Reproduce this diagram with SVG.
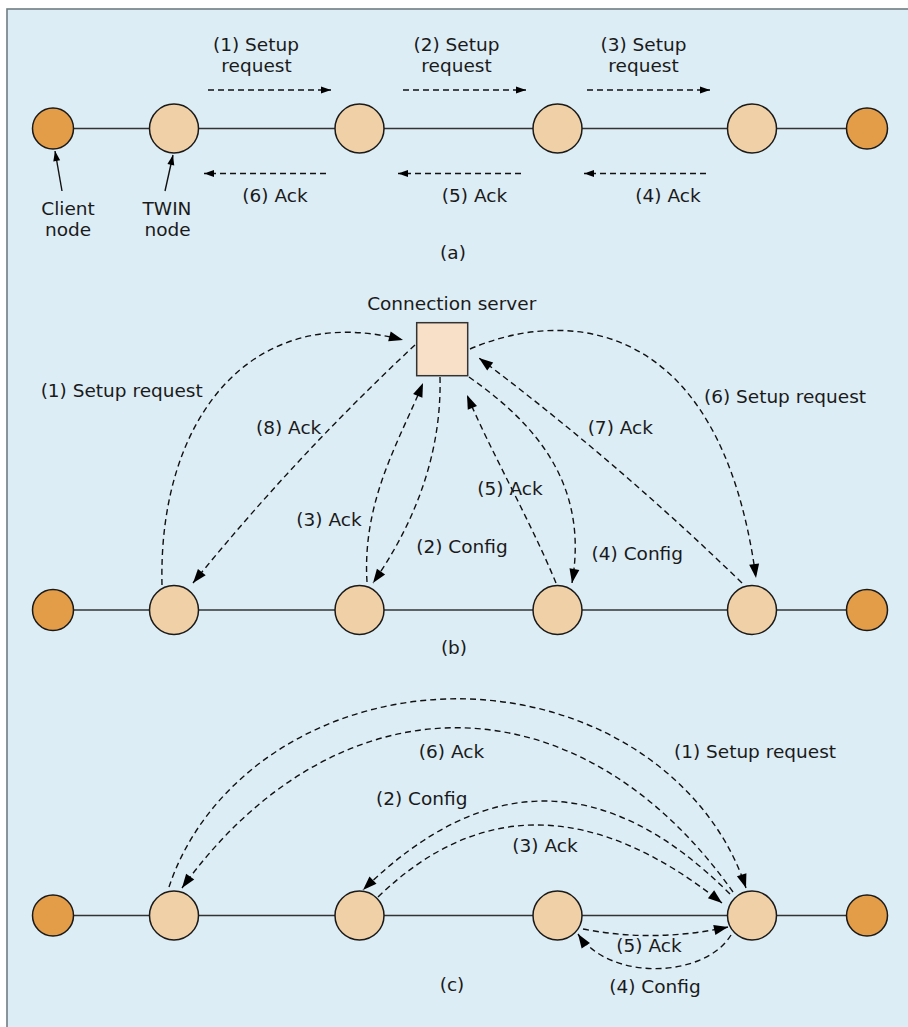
<svg xmlns="http://www.w3.org/2000/svg" width="908" height="1027" viewBox="0 0 908 1027">
  <style>
    .panel { fill: #dcedf5; stroke: #6f7d82; stroke-width: 1.6; }
    .link { stroke: #333; stroke-width: 1.5; fill: none; }
    .twin { fill: #f0d0a6; stroke: #1a1a1a; stroke-width: 1.5; }
    .client { fill: #e39c48; stroke: #1a1a1a; stroke-width: 1.5; }
    .server { fill: #f8e0c8; stroke: #333; stroke-width: 1.5; }
    .dash { fill: none; stroke: #111; stroke-width: 1.4; stroke-dasharray: 6 4; }
    .pointer { fill: none; stroke: #111; stroke-width: 1.4; }
    .sm { marker-end: url(#headSmall); }
    .lg { marker-end: url(#head); }
    text { font-family: "DejaVu Sans", "Liberation Sans", sans-serif; font-size: 18.5px; fill: #1a1a1a; text-anchor: middle; }
  </style>
  <defs>
    <marker id="head" markerUnits="userSpaceOnUse" markerWidth="15" markerHeight="11" refX="14" refY="5" orient="auto" overflow="visible">
      <path d="M0,0 L14,5 L0,10 z" fill="#000" stroke="none"/>
    </marker>
    <marker id="headSmall" markerUnits="userSpaceOnUse" markerWidth="11" markerHeight="8" refX="10" refY="3.5" orient="auto" overflow="visible">
      <path d="M0,0 L10,3.5 L0,7 z" fill="#000" stroke="none"/>
    </marker>
  </defs>

  <!-- frame -->
  <rect class="panel" x="7" y="9" width="910" height="1030"/>

  <!-- ===== (a) hop-by-hop setup ===== -->
  <g id="a-links">
    <line class="link" x1="53" y1="128.5" x2="867" y2="128.5"/>
  </g>
  <g id="a-client-left"><circle class="client" cx="53" cy="128.5" r="20.5"/></g>
  <g id="a-twin-1"><circle class="twin" cx="174" cy="128.5" r="24.5"/></g>
  <g id="a-twin-2"><circle class="twin" cx="359.5" cy="128.5" r="24.5"/></g>
  <g id="a-twin-3"><circle class="twin" cx="557.5" cy="128.5" r="24.5"/></g>
  <g id="a-twin-4"><circle class="twin" cx="752" cy="128.5" r="24.5"/></g>
  <g id="a-client-right"><circle class="client" cx="867" cy="128.5" r="20.5"/></g>

  <g id="a-connectors">
    <path class="dash sm" d="M208,90 L331,90"/>
    <path class="dash sm" d="M403,90 L526,90"/>
    <path class="dash sm" d="M587,90 L710,90"/>
    <path class="dash sm" d="M326,173.5 L204,173.5"/>
    <path class="dash sm" d="M521,173.5 L398,173.5"/>
    <path class="dash sm" d="M706,173.5 L584,173.5"/>
    <path class="pointer sm" d="M62,191 L55,151"/>
    <path class="pointer sm" d="M165,191 L173,155"/>
  </g>

  <g id="a-labels">
    <text x="256" y="51">(1) Setup</text>
    <text x="256.5" y="72">request</text>
    <text x="456.5" y="51">(2) Setup</text>
    <text x="456.5" y="72">request</text>
    <text x="643.5" y="51">(3) Setup</text>
    <text x="643.5" y="72">request</text>
    <text x="275" y="201.5">(6) Ack</text>
    <text x="474.5" y="201.5">(5) Ack</text>
    <text x="668" y="201.5">(4) Ack</text>
    <text x="68" y="215">Client</text>
    <text x="68" y="236">node</text>
    <text x="167" y="215">TWIN</text>
    <text x="167.5" y="236">node</text>
    <text x="453" y="259">(a)</text>
  </g>

  <!-- ===== (b) via connection server ===== -->
  <g id="b-links">
    <line class="link" x1="53" y1="610" x2="867" y2="610"/>
  </g>
  <g id="b-server">
    <rect class="server" x="416.7" y="322.7" width="51" height="53"/>
    <text x="451.7" y="310">Connection server</text>
  </g>
  <g id="b-client-left"><circle class="client" cx="53" cy="610" r="20.5"/></g>
  <g id="b-twin-1"><circle class="twin" cx="174" cy="610" r="24.5"/></g>
  <g id="b-twin-2"><circle class="twin" cx="359.5" cy="610" r="24.5"/></g>
  <g id="b-twin-3"><circle class="twin" cx="557.5" cy="610" r="24.5"/></g>
  <g id="b-twin-4"><circle class="twin" cx="752" cy="610" r="24.5"/></g>
  <g id="b-client-right"><circle class="client" cx="867" cy="610" r="20.5"/></g>

  <g id="b-connectors">
    <path class="dash lg" d="M162,585 C158,420 250,300 403,340"/>
    <path class="dash lg" d="M415,345 Q296,456 193,583"/>
    <path class="dash lg" d="M367,582 C362,500 400,440 423,383"/>
    <path class="dash lg" d="M440,377 C442,460 410,530 373,583"/>
    <path class="dash lg" d="M556,583 C530,520 490,450 467,395"/>
    <path class="dash lg" d="M469,377 C530,420 590,480 572,583"/>
    <path class="dash lg" d="M742,583 Q615,460 479,358"/>
    <path class="dash lg" d="M470,349 C560,310 720,310 756,578"/>
  </g>

  <g id="b-labels">
    <text x="121.7" y="396.7">(1) Setup request</text>
    <text x="288.7" y="434">(8) Ack</text>
    <text x="329" y="525.7">(3) Ack</text>
    <text x="462" y="552.7">(2) Config</text>
    <text x="510" y="494.5">(5) Ack</text>
    <text x="637.3" y="560">(4) Config</text>
    <text x="620.3" y="434">(7) Ack</text>
    <text x="785" y="402.7">(6) Setup request</text>
    <text x="454" y="654">(b)</text>
  </g>

  <!-- ===== (c) end-node driven setup ===== -->
  <g id="c-links">
    <line class="link" x1="53" y1="915.5" x2="867" y2="915.5"/>
  </g>
  <g id="c-client-left"><circle class="client" cx="53" cy="915.5" r="20.5"/></g>
  <g id="c-twin-1"><circle class="twin" cx="174" cy="915.5" r="24.5"/></g>
  <g id="c-twin-2"><circle class="twin" cx="359.5" cy="915.5" r="24.5"/></g>
  <g id="c-twin-3"><circle class="twin" cx="557.5" cy="915.5" r="24.5"/></g>
  <g id="c-twin-4"><circle class="twin" cx="752" cy="915.5" r="24.5"/></g>
  <g id="c-client-right"><circle class="client" cx="867" cy="915.5" r="20.5"/></g>

  <g id="c-connectors">
    <path class="dash lg" d="M169,887 A300,260 0 0 1 746,888"/>
    <path class="dash lg" d="M733,892 A400,590 0 0 0 182,888"/>
    <path class="dash lg" d="M730,894 Q546,710 363,890"/>
    <path class="dash lg" d="M378,897 Q530,750 722,903"/>
    <path class="dash lg" d="M583,929 Q655,943 728,927"/>
    <path class="dash lg" d="M731,935 C705,978 610,982 578,934"/>
  </g>

  <g id="c-labels">
    <text x="451.5" y="758.3">(6) Ack</text>
    <text x="755" y="758.3">(1) Setup request</text>
    <text x="421.7" y="805">(2) Config</text>
    <text x="545" y="851.7">(3) Ack</text>
    <text x="649" y="951.7">(5) Ack</text>
    <text x="655" y="993">(4) Config</text>
    <text x="452" y="991">(c)</text>
  </g>
</svg>
